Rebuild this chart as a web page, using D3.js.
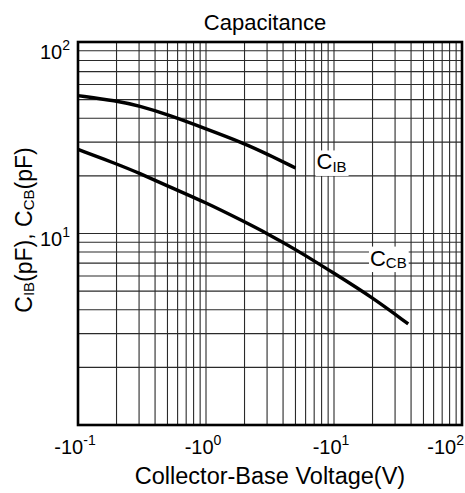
<!DOCTYPE html>
<html><head><meta charset="utf-8">
<script src="https://cdn.jsdelivr.net/npm/d3@7"></script>
<style>
html,body{margin:0;padding:0;background:#fff;}
text{font-family:"Liberation Sans",Arial,sans-serif;fill:#000;}
</style></head>
<body>
<svg id="chart" width="465" height="493"></svg>
<script>
// ---- data ----
const xTickValues = [0.1, 1, 10, 100];
const xTickExps = ["-1", "0", "1", "2"];
const yTickValues = [10, 100];
const yTickExps = ["1", "2"];
const cibVoltage = [0.1, 0.2, 0.3, 0.5, 1, 2, 3, 5];
const cibCap = [52.5, 49.3, 46.4, 41.8, 35.2, 29.5, 26, 22];
const ccbVoltage = [0.1, 0.2, 0.3, 0.5, 1, 2, 3, 5, 10, 20, 38];
const ccbCap = [27.5, 23.1, 20.7, 17.7, 14.5, 11.5, 10, 8.28, 6.2, 4.63, 3.37];
const seriesLabels = [
  {main: "C", sub: "IB", v: 7.3, c: 21.6},
  {main: "C", sub: "CB", v: 19.1, c: 6.8}
];

// ---- layout ----
const W = 465, H = 493;
const m = {left: 78, right: 3, top: 42, bottom: 68};
const pw = W - m.left - m.right, ph = H - m.top - m.bottom;
const svg = d3.select("#chart");
const x = d3.scaleLog().domain([0.1, 100]).range([m.left, m.left + pw]);
const y = d3.scaleLog().domain([1, 100]).range([m.top + ph, m.top]);

// grid
const gx = [], gy = [];
for (let d = 0.1; d < 100; d *= 10) for (let k = 1; k <= 9; k++) { const v = +(d * k).toPrecision(3); if (v > 0.1 && v < 100) gx.push(v); }
for (let d = 1; d < 100; d *= 10) for (let k = 1; k <= 9; k++) { const v = d * k; if (v > 1 && v < 100) gy.push(v); }
const grid = svg.append("g").attr("stroke", "#2a2a2a").attr("stroke-width", 1.1);
grid.selectAll("line.v").data(gx).join("line").attr("class", "v")
  .attr("x1", d => x(d)).attr("x2", d => x(d)).attr("y1", m.top).attr("y2", m.top + ph);
grid.selectAll("line.h").data(gy).join("line").attr("class", "h")
  .attr("y1", d => y(d)).attr("y2", d => y(d)).attr("x1", m.left).attr("x2", m.left + pw);

// curves
const line = d3.line().x(d => x(d[0])).y(d => y(d[1])).curve(d3.curveBasis);
const series = [d3.zip(cibVoltage, cibCap), d3.zip(ccbVoltage, ccbCap)];
svg.append("g").selectAll("path").data(series).join("path")
  .attr("d", line).attr("fill", "none").attr("stroke", "#000").attr("stroke-width", 3.4);

// series labels with white background
seriesLabels.forEach(L => {
  const g = svg.append("g");
  const bg = g.append("rect").attr("fill", "#fff");
  const t = g.append("text").attr("x", x(L.v)).attr("y", y(L.c)).attr("font-size", 22);
  t.append("tspan").text(L.main);
  t.append("tspan").attr("font-size", 15).attr("dy", 2.5).text(L.sub);
  const b = t.node().getBBox();
  bg.attr("x", b.x - 1).attr("y", b.y + 1).attr("width", b.width + 3).attr("height", b.height);
});

// frame
svg.append("rect").attr("x", m.left).attr("y", m.top).attr("width", pw).attr("height", ph)
  .attr("fill", "none").attr("stroke", "#000").attr("stroke-width", 2.6);

// x tick labels
xTickValues.forEach((v, i) => {
  const t = svg.append("text").attr("y", 454).attr("font-size", 20);
  t.append("tspan").text("-10");
  t.append("tspan").attr("font-size", 14).attr("dy", -9).text(xTickExps[i]);
  const w = t.node().getComputedTextLength();
  let left = x(v) - w / 2 - 3;
  left = Math.min(left, W - 1 - w);
  t.attr("x", left);
});

// y tick labels
yTickValues.forEach((v, i) => {
  const t = svg.append("text").attr("x", 70).attr("text-anchor", "end").attr("font-size", 20)
    .attr("y", Math.max(y(v) + 12, m.top + 17));
  t.append("tspan").text("10");
  t.append("tspan").attr("font-size", 14).attr("dy", -9).text(yTickExps[i]);
});

// title
svg.append("text").attr("x", 265).attr("y", 30).attr("text-anchor", "middle")
  .attr("font-size", 22).text("Capacitance");

// x axis label
svg.append("text").attr("x", 270).attr("y", 484).attr("text-anchor", "middle")
  .attr("font-size", 23.5).text("Collector-Base Voltage(V)");

// y axis label
const yl = svg.append("text").attr("transform", "translate(32,230) rotate(-90)")
  .attr("text-anchor", "middle").attr("font-size", 23);
yl.append("tspan").text("C");
yl.append("tspan").attr("font-size", 15).attr("dy", 2).text("IB");
yl.append("tspan").attr("dy", -2).text("(pF), C");
yl.append("tspan").attr("font-size", 15).attr("dy", 2).text("CB");
yl.append("tspan").attr("dy", -2).text("(pF)");
</script>
</body></html>
